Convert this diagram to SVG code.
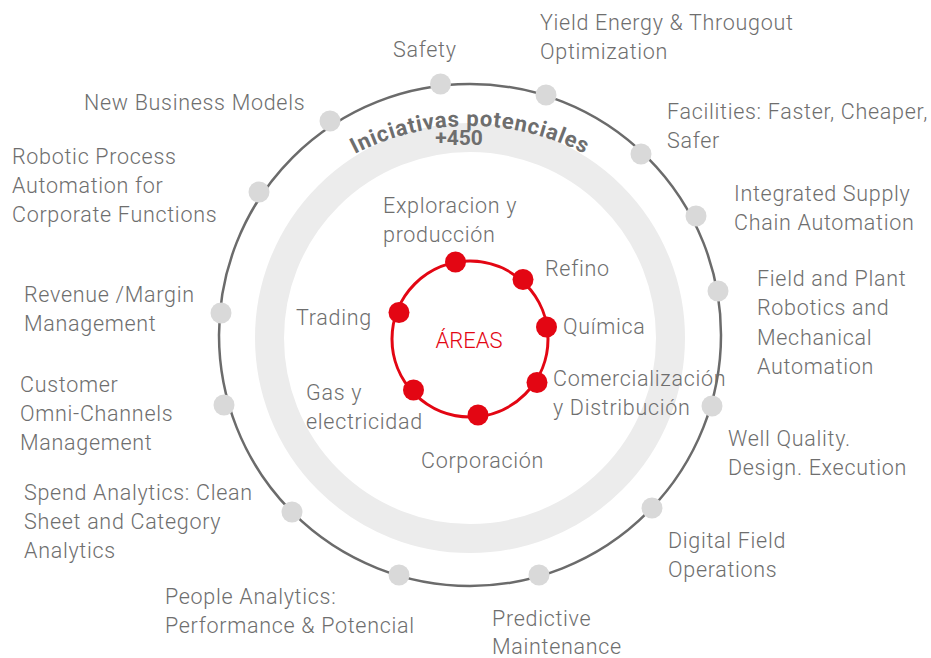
<svg xmlns="http://www.w3.org/2000/svg" width="931" height="658" viewBox="0 0 931 658">
<style>
.t{font-family:Roboto,"Liberation Sans",sans-serif;font-size:21.5px;font-weight:300;fill:#6e6e6e;letter-spacing:0.7px}
.gd{fill:#d9d9d9}
.rd{fill:#e30613}
.b{font-family:Roboto,"Liberation Sans",sans-serif;font-weight:700;fill:#6e6e6e}
</style>
<defs>
<path id="arc" d="M 220,376 A 250,250 0 0 1 720,376"/>
</defs>
<rect width="931" height="658" fill="#ffffff"/>
<g id="rings">
<circle cx="470" cy="338" r="200.5" fill="none" stroke="#ececec" stroke-width="29"/>
<circle cx="470" cy="335" r="251" fill="none" stroke="#6b6b6b" stroke-width="2.5"/>
<circle cx="470" cy="339" r="78" fill="none" stroke="#e30613" stroke-width="3"/>
</g>
<g id="title">
<text class="b" font-size="22" letter-spacing="0.8" text-anchor="middle"><textPath href="#arc" startOffset="50%">Iniciativas potenciales</textPath></text>
<text class="b" font-size="21" x="459" y="145" text-anchor="middle">+450</text>
</g>
<g id="n-safety"><circle class="gd" cx="440.5" cy="84" r="10.5"/><text class="t" x="393" y="57">Safety</text></g>
<g id="n-yield"><circle class="gd" cx="546" cy="95" r="10.5"/><text class="t" x="540" y="30">Yield Energy &amp; Througout</text><text class="t" x="540" y="59">Optimization</text></g>
<g id="n-facilities"><circle class="gd" cx="641" cy="154" r="10.5"/><text class="t" x="667" y="119">Facilities: Faster, Cheaper,</text><text class="t" x="667" y="148">Safer</text></g>
<g id="n-supply"><circle class="gd" cx="696" cy="216" r="10.5"/><text class="t" x="734" y="201">Integrated Supply</text><text class="t" x="734" y="230">Chain Automation</text></g>
<g id="n-field"><circle class="gd" cx="718" cy="291" r="10.5"/><text class="t" x="757" y="286">Field and Plant</text><text class="t" x="757" y="315">Robotics and</text><text class="t" x="757" y="345">Mechanical</text><text class="t" x="757" y="374">Automation</text></g>
<g id="n-well"><circle class="gd" cx="712" cy="406" r="10.5"/><text class="t" x="728" y="446">Well Quality.</text><text class="t" x="728" y="475">Design. Execution</text></g>
<g id="n-digital"><circle class="gd" cx="652" cy="508" r="10.5"/><text class="t" x="668" y="548">Digital Field</text><text class="t" x="668" y="577">Operations</text></g>
<g id="n-predictive"><circle class="gd" cx="539" cy="575" r="10.5"/><text class="t" x="492" y="626">Predictive</text><text class="t" x="492" y="654">Maintenance</text></g>
<g id="n-people"><circle class="gd" cx="399" cy="575" r="10.5"/><text class="t" x="165" y="604">People Analytics:</text><text class="t" x="165" y="633">Performance &amp; Potencial</text></g>
<g id="n-spend"><circle class="gd" cx="292" cy="512" r="10.5"/><text class="t" x="24" y="500">Spend Analytics: Clean</text><text class="t" x="24" y="529">Sheet and Category</text><text class="t" x="24" y="558">Analytics</text></g>
<g id="n-customer"><circle class="gd" cx="224" cy="405" r="10.5"/><text class="t" x="20" y="392">Customer</text><text class="t" x="20" y="421">Omni-Channels</text><text class="t" x="20" y="450">Management</text></g>
<g id="n-revenue"><circle class="gd" cx="221" cy="313" r="10.5"/><text class="t" x="24" y="302">Revenue /Margin</text><text class="t" x="24" y="331">Management</text></g>
<g id="n-robotic"><circle class="gd" cx="259" cy="192" r="10.5"/><text class="t" x="12" y="164">Robotic Process</text><text class="t" x="12" y="193">Automation for</text><text class="t" x="12" y="222">Corporate Functions</text></g>
<g id="n-newbiz"><circle class="gd" cx="330" cy="121" r="10.5"/><text class="t" x="84" y="110">New Business Models</text></g>
<g id="areas"><text x="469" y="348" text-anchor="middle" style="font-family:Roboto,'Liberation Sans',sans-serif;font-size:22px;font-weight:300;fill:#e30613">ÁREAS</text></g>
<g id="a-exploracion"><circle class="rd" cx="455.5" cy="262" r="10.5"/><text class="t" x="383" y="213">Exploracion y</text><text class="t" x="383" y="242">producción</text></g>
<g id="a-refino"><circle class="rd" cx="523" cy="279.5" r="10.5"/><text class="t" x="545" y="276">Refino</text></g>
<g id="a-quimica"><circle class="rd" cx="546.5" cy="327" r="10.5"/><text class="t" x="563" y="334">Química</text></g>
<g id="a-comercial"><circle class="rd" cx="537" cy="382.5" r="10.5"/><text class="t" x="553" y="386">Comercialización</text><text class="t" x="553" y="415">y Distribución</text></g>
<g id="a-corporacion"><circle class="rd" cx="478" cy="415" r="10.5"/><text class="t" x="421" y="468">Corporación</text></g>
<g id="a-gas"><circle class="rd" cx="413.5" cy="390" r="10.5"/><text class="t" x="306" y="400">Gas y</text><text class="t" x="306" y="429">electricidad</text></g>
<g id="a-trading"><circle class="rd" cx="399" cy="312.5" r="10.5"/><text class="t" x="296" y="325">Trading</text></g>
</svg>
